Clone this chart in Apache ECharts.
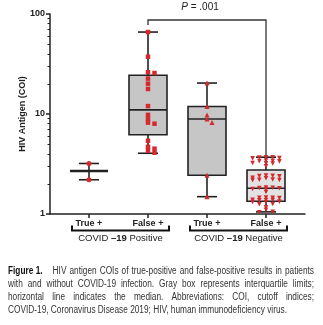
<!DOCTYPE html>
<html><head><meta charset="utf-8">
<script src="https://cdn.jsdelivr.net/npm/echarts@6/dist/echarts.min.js"></script>
<style>html,body{margin:0;padding:0;background:#fff}#c{width:323px;height:325px}</style>
</head><body><div id="c"></div>
<script>
// ---------- data ----------
const categories = ['True +', 'False +', 'True +', 'False +'];
const groupNames = [['COVID ', '\u201319', ' Positive'], ['COVID ', '\u201319', ' Negative']];
const yTickValues = [1, 10, 100];
const yMinorTicks = [2,3,4,5,6,7,8,9,20,30,40,50,60,70,80,90];
const posTrueValues = [3.2, 2.2];
const posFalseValues = [66, 37.4, 26.2, 25.7, 22.6, 20.1, 17.8, 12.0, 9.8, 8.9, 8.2, 8.0, 5.4, 4.7, 4.5, 4.3, 4.1];
const negTrueValues = [20.4, 11.9, 9.8, 8.9, 8.2, 2.44, 1.49];
const negFalseValues = [3.7, 3.68, 3.62, 3.6, 3.66, 3.4, 3.38, 3.42, 3.36, 3.22, 3.2, 3.24, 3.0,
  2.42, 2.4, 2.38, 2.41, 2.3, 2.28, 2.2, 2.19, 2.21, 2.18,
  1.83, 1.82, 1.81, 1.84, 1.78, 1.77, 1.66,
  1.46, 1.45, 1.44, 1.45, 1.39, 1.38, 1.37, 1.38, 1.32, 1.31, 1.33, 1.26, 1.25, 1.17, 1.10, 1.04, 1.05];
// box stats: [min, q1, median, q3, max]
const posTrueStats = [2.2, 2.69, 2.69, 2.69, 3.2];
const posFalseStats = [4.05, 6.2, 11.0, 24.4, 66];
const negTrueStats = [1.49, 2.44, 8.9, 11.9, 20.4];
const negFalseStats = [1.05, 1.34, 1.81, 2.75, 3.7];
const pValueLabel = ['P', ' = .001'];
const yAxisTitle = 'HIV Antigen (COI)';
const captionLabel = 'Figure 1.';
const captionLines = [
  'HIV antigen COIs of true-positive and false-positive results in patients',
  'with and without COVID-19 infection. Gray box represents interquartile limits;',
  'horizontal line indicates the median. Abbreviations: COI, cutoff indices;',
  'COVID-19, Coronavirus Disease 2019; HIV, human immunodeficiency virus.'
];

// ---------- styles ----------
const INK = '#222';
const RED = '#d42a2e';
const boxFills = ['#c6c6c6', '#c6c6c6', '#c6c6c6', '#e2e2e2'];
const FONT = '"Liberation Sans", Arial, sans-serif';
const CAP_FONT = '"Liberation Sans Narrow", "Liberation Sans", Arial, sans-serif';

const chart = echarts.init(document.getElementById('c'), null, {renderer: 'canvas'});
const allStats = [posTrueStats, posFalseStats, negTrueStats, negFalseStats];

const option = {
  animation: false,
  textStyle: {fontFamily: FONT},
  grid: {left: 50, right: 18, top: 14, bottom: 111},
  xAxis: {
    type: 'value', min: -0.661, max: 3.661,
    axisLine: {show: true, onZero: false, lineStyle: {color: INK, width: 1.5}},
    axisTick: {show: true, customValues: [0, 1, 2, 3], length: 4, lineStyle: {color: INK, width: 1.5}},
    axisLabel: {customValues: [0, 1, 2, 3], formatter: v => categories[Math.round(v)],
      fontWeight: 'bold', fontSize: 9, color: INK, margin: 5, fontFamily: FONT},
    splitLine: {show: false}
  },
  yAxis: [{
    type: 'log', logBase: 10, min: 1, max: 100,
    axisLine: {show: true, onZero: false, lineStyle: {color: INK, width: 1.5}},
    axisTick: {show: true, length: 4, lineStyle: {color: INK, width: 1.5}},
    axisLabel: {fontWeight: 'bold', fontSize: 9, color: INK, margin: 5, fontFamily: FONT,
      formatter: v => String(v)},
    splitLine: {show: false},
    name: yAxisTitle, nameLocation: 'middle', nameGap: 23, nameMoveOverlap: false,
    nameTextStyle: {fontWeight: 'bold', fontSize: 9, color: INK, fontFamily: FONT}
  }, {
    type: 'value', min: 0, max: 2, position: 'left',
    axisLine: {show: false, onZero: false},
    axisTick: {show: true, customValues: yMinorTicks.map(v => Math.log10(v)), length: 2.5,
      lineStyle: {color: INK, width: 1}},
    axisLabel: {show: false},
    splitLine: {show: false}
  }],
  series: [{
    type: 'custom',
    z: 1,
    data: allStats.map((s, i) => [i].concat(s)),
    encode: {x: 0, y: [1, 2, 3, 4, 5]},
    renderItem: function (params, api) {
      const x = api.value(0);
      const pMin = api.coord([x, api.value(1)]);
      const pQ1 = api.coord([x, api.value(2)]);
      const pMed = api.coord([x, api.value(3)]);
      const pQ3 = api.coord([x, api.value(4)]);
      const pMax = api.coord([x, api.value(5)]);
      const cx = pMin[0];
      const bw = 38, cw = 20;
      const hasBox = pQ1[1] - pQ3[1] > 0.5;
      const ls = {stroke: INK, lineWidth: 1.6};
      const ch = [];
      ch.push({type: 'line', shape: {x1: cx, y1: pQ3[1], x2: cx, y2: pMax[1]}, style: ls});
      ch.push({type: 'line', shape: {x1: cx, y1: pQ1[1], x2: cx, y2: pMin[1]}, style: ls});
      ch.push({type: 'line', shape: {x1: cx - cw / 2, y1: pMax[1], x2: cx + cw / 2, y2: pMax[1]}, style: ls});
      ch.push({type: 'line', shape: {x1: cx - cw / 2, y1: pMin[1], x2: cx + cw / 2, y2: pMin[1]}, style: ls});
      if (hasBox) {
        ch.push({type: 'rect', shape: {x: cx - bw / 2, y: pQ3[1], width: bw, height: pQ1[1] - pQ3[1]},
          style: {fill: boxFills[params.dataIndex], stroke: INK, lineWidth: 1.6}});
      }
      ch.push({type: 'line', shape: {x1: cx - bw / 2, y1: pMed[1], x2: cx + bw / 2, y2: pMed[1]},
        style: {stroke: INK, lineWidth: hasBox ? 1.6 : 2.6}});
      return {type: 'group', children: ch};
    }
  }]
};
chart.setOption(option);

// beeswarm layout (limited columns) using the chart's own scales
function swarm(values, gx, step, minDy, maxK) {
  const placed = [];
  const c0 = chart.convertToPixel({gridIndex: 0}, [gx, 1]);
  const order = values.map((v, i) => i).sort((a, b) => values[b] - values[a]);
  const out = [];
  const offAt = k => (k === 0 ? 0 : (k % 2 ? 1 : -1) * Math.ceil(k / 2) * step);
  for (const i of order) {
    const v = values[i];
    const py = chart.convertToPixel({gridIndex: 0}, [gx, v])[1];
    let chosen = null, bestD = -1, bestOff = 0;
    for (let k = 0; k <= maxK; k++) {
      const off = offAt(k);
      const near = placed.filter(p => p.off === off).map(p => Math.abs(p.py - py));
      const d = near.length ? Math.min.apply(null, near) : 1e9;
      if (d >= minDy) { chosen = off; break; }
      if (d > bestD) { bestD = d; bestOff = off; }
    }
    if (chosen === null) chosen = bestOff;
    placed.push({off: chosen, py});
    const dx = chart.convertFromPixel({gridIndex: 0}, [c0[0] + chosen, py])[0];
    out.push([dx, v]);
  }
  return out;
}

const symbolDefs = [
  {symbol: 'circle', size: 5, rot: 0, step: 6, dy: 4, maxK: 4},
  {symbol: 'rect', size: 4.5, rot: 0, step: 6.5, dy: 3.5, maxK: 4},
  {symbol: 'triangle', size: 5, rot: 0, step: 5, dy: 4, maxK: 4},
  {symbol: 'triangle', size: 4.6, rot: 180, step: 6.7, dy: 2.6, maxK: 4}
];
const groupValues = [posTrueValues, posFalseValues, negTrueValues, negFalseValues];
const scatterSeries = groupValues.map((vals, i) => ({
  type: 'scatter', z: 3,
  symbol: symbolDefs[i].symbol, symbolSize: symbolDefs[i].size, symbolRotate: symbolDefs[i].rot,
  itemStyle: {color: RED, opacity: 1},
  data: swarm(vals, i, symbolDefs[i].step, symbolDefs[i].dy, symbolDefs[i].maxK)
}));

// annotation geometry from scales
const px = i => chart.convertToPixel({gridIndex: 0}, [i, 1])[0];
const py = v => chart.convertToPixel({gridIndex: 0}, [0, v])[1];
const xAxisY = py(1);
const graphics = [];

// significance bracket
const bTop = py(100) + 6;
graphics.push({type: 'polyline', silent: true,
  shape: {points: [[px(1), py(posFalseStats[4]) - 7], [px(1), bTop], [px(3), bTop], [px(3), py(negFalseStats[4])]]},
  style: {stroke: '#333', lineWidth: 1.3, fill: null}});
graphics.push({type: 'text', silent: true, x: (px(1) + px(3)) / 2 - 7, y: bTop - 13,
  style: {text: '{i|' + pValueLabel[0] + '}{n|' + pValueLabel[1] + '}', align: 'center', verticalAlign: 'middle',
    rich: {i: {fontStyle: 'italic', fontSize: 10, fontFamily: FONT, fill: INK},
           n: {fontSize: 10, fontFamily: FONT, fill: INK}}}});

// group brackets
[[0, 1], [2, 3]].forEach((pair, gi) => {
  const l = px(pair[0]) - 17, r = px(pair[1]) + 21;
  const by = xAxisY + 16.5;
  graphics.push({type: 'polyline', silent: true,
    shape: {points: [[l, by - 5], [l, by], [r, by], [r, by - 5]]},
    style: {stroke: '#111', lineWidth: 2, fill: null}});
  const g = groupNames[gi];
  graphics.push({type: 'text', silent: true, x: (l + r) / 2, y: by + 8,
    style: {text: '{n|' + g[0] + '}{b|' + g[1] + '}{n|' + g[2] + '}', align: 'center', verticalAlign: 'middle',
      rich: {n: {fontSize: 9.5, fontFamily: FONT, fill: INK},
             b: {fontSize: 9.5, fontWeight: 'bold', fontFamily: FONT, fill: INK}}}});
});

// caption (justified)
const ctx = document.createElement('canvas').getContext('2d');
const CAP_SIZE = 10;
function tw(t, bold) { ctx.font = (bold ? 'bold ' : '') + CAP_SIZE + 'px ' + CAP_FONT; return ctx.measureText(t).width; }
const capLeft = 8, capRight = 314, lastRight = 287;
const capY = [271, 284, 297, 310];
const sp = tw(' ', false);
const s = (lastRight - capLeft) / tw(captionLines[3], false);
captionLines.forEach((line, li) => {
  const words = line.split(' ');
  const items = words.map(w => ({t: w, b: false}));
  let x = capLeft;
  let extra = 0;
  if (li === 0) {
    items.unshift({t: captionLabel, b: true});
    extra = 7;
  }
  const total = items.reduce((a, it) => a + tw(it.t, it.b) * s, 0);
  const justify = li < captionLines.length - 1;
  const gap = justify ? (capRight - capLeft - total - extra) / (items.length - 1) : sp * s;
  items.forEach((it, k) => {
    graphics.push({type: 'text', silent: true, x: x, y: capY[li], scaleX: s,
      style: {text: it.t, fontSize: CAP_SIZE, fontFamily: CAP_FONT, fontWeight: it.b ? 'bold' : 'normal',
        fill: it.b ? '#111' : '#333', align: 'left', verticalAlign: 'middle'}});
    x += tw(it.t, it.b) * s + gap + (li === 0 && k === 0 ? extra : 0);
  });
});

chart.setOption({series: [option.series[0]].concat(scatterSeries), graphic: graphics});
</script></body></html>
